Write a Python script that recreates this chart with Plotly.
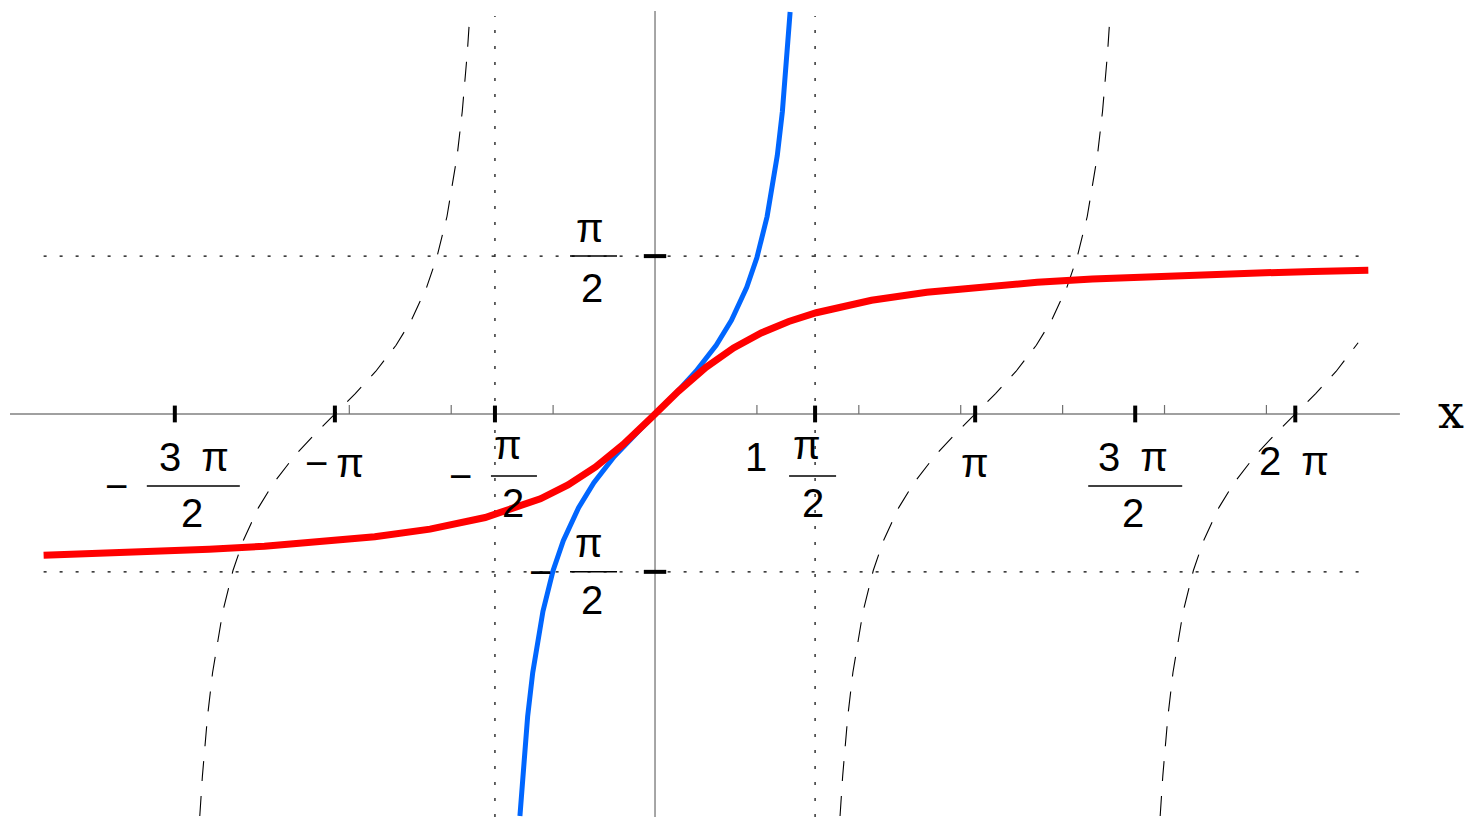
import plotly.graph_objects as go

# ---------------- data ----------------
# arctan(x) samples (red)
atan_x = [-6.0, -5.458, -4.917, -4.375, -3.833, -3.292, -2.75, -2.208, -1.667, -1.125,
          -0.854, -0.583, -0.3125, -0.042, 0.229, 0.5, 0.771, 1.042, 1.3125, 1.583,
          1.854, 2.125, 2.667, 3.208, 3.75, 4.292, 4.833, 5.375, 5.917, 6.458, 7.0]
atan_y = [-1.4056, -1.3896, -1.3701, -1.3461, -1.3156, -1.2759, -1.2220, -1.1456, -1.0304, -0.8442,
          -0.7066, -0.5277, -0.3029, -0.0420, 0.2251, 0.4636, 0.6566, 0.8060, 0.9197, 1.0074,
          1.0763, 1.1310, 1.2120, 1.2686, 1.3102, 1.3419, 1.3668, 1.3869, 1.4034, 1.4172, 1.4289]

# tan(x) principal branch samples (blue)
tan_x = [-1.3258, -1.3, -1.25, -1.2, -1.1, -1.0, -0.9, -0.75, -0.6, -0.4, -0.2, 0.0,
         0.2, 0.4, 0.6, 0.75, 0.9, 1.0, 1.1, 1.2, 1.25, 1.3, 1.3258]
tan_y = [-4.0, -3.6021, -3.0096, -2.5722, -1.9648, -1.5574, -1.2602, -0.9316, -0.6841, -0.4228, -0.2027, 0.0,
         0.2027, 0.4228, 0.6841, 0.9316, 1.2602, 1.5574, 1.9648, 2.5722, 3.0096, 3.6021, 4.0]

# tan(x) other branches (dashed)
branchA_x = [-4.4674, -4.4416, -4.3916, -4.3416, -4.2416, -4.1416, -4.0416, -3.8916, -3.7416, -3.5416, -3.3416, -3.1416,
             -2.9416, -2.7416, -2.5416, -2.3916, -2.2416, -2.1416, -2.0416, -1.9416, -1.8916, -1.8416, -1.8158]
branchA_y = [-4.0, -3.6021, -3.0096, -2.5722, -1.9648, -1.5574, -1.2602, -0.9316, -0.6841, -0.4228, -0.2027, 0.0,
             0.2027, 0.4228, 0.6841, 0.9316, 1.2602, 1.5574, 1.9648, 2.5722, 3.0096, 3.6021, 4.0]
branchB_x = [-1.3258, -1.3, -1.25, -1.2, -1.1, -1.0, -0.9, -0.75, -0.6, -0.4, -0.2, 0.0,
             0.2, 0.4, 0.6, 0.75, 0.9, 1.0, 1.1, 1.2, 1.25, 1.3, 1.3258]
branchB_y = [-4.0, -3.6021, -3.0096, -2.5722, -1.9648, -1.5574, -1.2602, -0.9316, -0.6841, -0.4228, -0.2027, 0.0,
             0.2027, 0.4228, 0.6841, 0.9316, 1.2602, 1.5574, 1.9648, 2.5722, 3.0096, 3.6021, 4.0]
branchC_x = [1.8158, 1.8416, 1.8916, 1.9416, 2.0416, 2.1416, 2.2416, 2.3916, 2.5416, 2.7416, 2.9416, 3.1416,
             3.3416, 3.5416, 3.7416, 3.8916, 4.0416, 4.1416, 4.2416, 4.3416, 4.3916, 4.4416, 4.4674]
branchC_y = [-4.0, -3.6021, -3.0096, -2.5722, -1.9648, -1.5574, -1.2602, -0.9316, -0.6841, -0.4228, -0.2027, 0.0,
             0.2027, 0.4228, 0.6841, 0.9316, 1.2602, 1.5574, 1.9648, 2.5722, 3.0096, 3.6021, 4.0]
branchD_x = [4.9574, 4.9832, 5.0332, 5.0832, 5.1832, 5.2832, 5.3832, 5.5332, 5.6832, 5.8832, 6.0832, 6.2832,
             6.4832, 6.6832, 6.9]
branchD_y = [-4.0, -3.6021, -3.0096, -2.5722, -1.9648, -1.5574, -1.2602, -0.9316, -0.6841, -0.4228, -0.2027, 0.0,
             0.2027, 0.4228, 0.7088]

# tick positions
major_x_ticks = [-4.7124, -3.1416, -1.5708, 1.5708, 3.1416, 4.7124, 6.2832]
minor_x_ticks = [-3, -2, -1, 1, 2, 3, 4, 5, 6]
major_y_ticks = [-1.5708, 1.5708]
guide_x = [-1.5708, 1.5708]
guide_y = [-1.5708, 1.5708]

# plot extents
X_RANGE = [-6.428, 8.096]
Y_RANGE = [-4.01, 4.119]
AXIS_X_SPAN = [-6.33, 7.31]
AXIS_Y_SPAN = [-4.01, 4.01]
GUIDE_H_SPAN = [-6.0, 7.0]
GUIDE_V_SPAN = [-4.01, 3.96]

FONT = "Liberation Sans, Arial, sans-serif"
FS = 40

fig = go.Figure()

# dotted guide lines
DOT = "3px,13px"
for gx in guide_x:
    fig.add_trace(go.Scatter(x=[gx, gx], y=GUIDE_V_SPAN, mode="lines",
                             line=dict(color="black", width=1.2, dash=DOT), hoverinfo="skip"))
for gy in guide_y:
    fig.add_trace(go.Scatter(x=GUIDE_H_SPAN, y=[gy, gy], mode="lines",
                             line=dict(color="black", width=1.2, dash=DOT), hoverinfo="skip"))

# axes
fig.add_trace(go.Scatter(x=AXIS_X_SPAN, y=[0, 0], mode="lines",
                         line=dict(color="#808080", width=1.4), hoverinfo="skip"))
fig.add_trace(go.Scatter(x=[0, 0], y=AXIS_Y_SPAN, mode="lines",
                         line=dict(color="#808080", width=1.4), hoverinfo="skip"))

# minor ticks (upward from axis)
for mx in minor_x_ticks:
    fig.add_shape(type="line", xref="x", yref="y", x0=mx, x1=mx,
                  ysizemode="pixel", yanchor=0, y0=0, y1=9,
                  line=dict(color="#707070", width=1.2))

# dashed tan branches
dash_x = branchA_x + [None] + branchB_x + [None] + branchC_x + [None] + branchD_x
dash_y = branchA_y + [None] + branchB_y + [None] + branchC_y + [None] + branchD_y
fig.add_trace(go.Scatter(x=dash_x, y=dash_y, mode="lines",
                         line=dict(color="black", width=1.1, dash="20px,15px"),
                         connectgaps=False, hoverinfo="skip"))

# blue tan
fig.add_trace(go.Scatter(x=tan_x, y=tan_y, mode="lines",
                         line=dict(color="#0066ff", width=5), hoverinfo="skip"))
# red arctan
fig.add_trace(go.Scatter(x=atan_x, y=atan_y, mode="lines",
                         line=dict(color="#ff0000", width=7), hoverinfo="skip"))

# major ticks
fig.add_trace(go.Scatter(x=major_x_ticks, y=[0] * len(major_x_ticks), mode="markers",
                         marker=dict(symbol="line-ns", size=12, line=dict(color="black", width=4)),
                         hoverinfo="skip"))
fig.add_trace(go.Scatter(x=[0] * len(major_y_ticks), y=major_y_ticks, mode="markers",
                         marker=dict(symbol="line-ew", size=16, line=dict(color="black", width=4)),
                         hoverinfo="skip"))


def label(x, y, text, dx, dy, size=FS, family=FONT):
    fig.add_annotation(x=x, y=y, xref="x", yref="y", text=text, showarrow=False,
                       xshift=dx, yshift=-dy, xanchor="center", yanchor="middle",
                       font=dict(family=family, size=size, color="black"))


def bar(x, y, dx0, dx1, dy):
    fig.add_shape(type="line", xref="x", yref="y",
                  xsizemode="pixel", xanchor=x, x0=dx0, x1=dx1,
                  ysizemode="pixel", yanchor=y, y0=-dy, y1=-dy,
                  line=dict(color="black", width=1.5))


# -3pi/2
t = major_x_ticks[0]
label(t, 0, "\u2212", -58, 72)
label(t, 0, "3\u2002\u03c0", 19, 43)
bar(t, 0, -28, 65, 72)
label(t, 0, "2", 17, 99)
# -pi
label(major_x_ticks[1], 0, "\u2212\u2009\u03c0", 0, 49)
# -pi/2
t = major_x_ticks[2]
label(t, 0, "\u2212", -34, 62)
label(t, 0, "\u03c0", 13, 31)
bar(t, 0, -4, 42, 62)
label(t, 0, "2", 18, 89)
# 1
label(1, 0, "1", -1, 43)
# pi/2
t = major_x_ticks[3]
label(t, 0, "\u03c0", -8, 31)
bar(t, 0, -26, 21, 62)
label(t, 0, "2", -2, 89)
# pi
label(major_x_ticks[4], 0, "\u03c0", 0, 49)
# 3pi/2
t = major_x_ticks[5]
label(t, 0, "3\u2002\u03c0", -2, 43)
bar(t, 0, -47, 47, 72)
label(t, 0, "2", -2, 99)
# 2pi
label(major_x_ticks[6], 0, "2\u2002\u03c0", -1, 47)

# y labels
t = major_y_ticks[1]
label(0, t, "\u03c0", -65, -28)
bar(0, t, -85, -38, 0)
label(0, t, "2", -63, 32)
t = major_y_ticks[0]
label(0, t, "\u2212", -115, 0)
label(0, t, "\u03c0", -66, -29)
bar(0, t, -85, -38, 0)
label(0, t, "2", -63, 28)

# axis name
fig.add_annotation(x=AXIS_X_SPAN[1], y=0, xref="x", yref="y", text="x", showarrow=False,
                   xshift=51, yshift=2, xanchor="center", yanchor="middle",
                   font=dict(family="DejaVu Serif, Liberation Serif, serif", size=46, color="black"))

fig.update_layout(
    width=1480, height=817,
    margin=dict(l=0, r=0, t=0, b=0),
    paper_bgcolor="white", plot_bgcolor="white",
    showlegend=False,
    xaxis=dict(range=X_RANGE, visible=False, fixedrange=True),
    yaxis=dict(range=Y_RANGE, visible=False, fixedrange=True),
)

fig.write_html("out.html", config={"displayModeBar": False},
               post_script="document.body.style.margin='0';document.body.style.overflow='hidden';")
